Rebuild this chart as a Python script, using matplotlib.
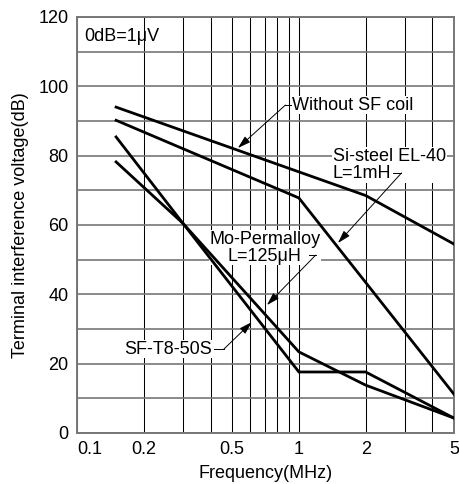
import matplotlib
matplotlib.use('Agg')
import matplotlib.pyplot as plt

plt.rcParams['font.family'] = ['Liberation Sans', 'DejaVu Sans']
plt.rcParams['font.size'] = 13

# frequency (MHz) / terminal interference voltage (dB)
freq_none = [0.15, 2, 5]
db_none = [94, 68.5, 54.5]

freq_si = [0.15, 1, 5]
db_si = [90.2, 67.8, 11.2]

freq_mo = [0.15, 0.3, 1, 2, 5]
db_mo = [85.4, 60.5, 23.4, 13.8, 4.3]

freq_sf = [0.15, 0.3, 1, 2, 5]
db_sf = [78.2, 60.5, 17.6, 17.6, 4.3]

x_ticks = [0.1, 0.2, 0.5, 1, 2, 5]
x_tick_labels = ['0.1', '0.2', '0.5', '1', '2', '5']
x_minor = [0.3, 0.4, 0.6, 0.7, 0.8, 0.9, 3, 4]
y_ticks = [0, 20, 40, 60, 80, 100, 120]
y_minor = [10, 30, 50, 70, 90, 110]

fig = plt.figure(figsize=(4.59, 4.84), dpi=100)
ax = fig.add_axes([0.1678, 0.1054, 0.8212, 0.8595])

for f, d in [(freq_none, db_none), (freq_si, db_si), (freq_mo, db_mo), (freq_sf, db_sf)]:
    ax.plot(f, d, color='black', lw=2.0, zorder=3, solid_joinstyle='miter')

ax.set_xscale('log')
ax.set_xlim(0.1, 5)
ax.set_ylim(0, 120)
ax.set_xticks(x_ticks)
ax.set_xticklabels(x_tick_labels)
ax.set_xticks(x_minor, minor=True)
ax.set_xticklabels([], minor=True)
ax.set_yticks(y_ticks)
ax.set_yticks(y_minor, minor=True)
ax.tick_params(which='both', length=0, pad=6)
ax.get_xticklabels()[0].set_horizontalalignment('left')

ax.grid(True, which='both', axis='x', color='black', lw=0.75, zorder=0)
ax.grid(True, which='both', axis='y', color='#777777', lw=1.2, zorder=0)
ax.set_axisbelow(True)
for s in ax.spines.values():
    s.set_color('#777777')
    s.set_linewidth(1.4)

ax.set_xlabel('Frequency(MHz)', labelpad=5)
ax.set_ylabel('Terminal interference voltage(dB)', labelpad=7)

ax.text(0.108, 114.5, '0dB=1\u03bcV', ha='left', va='center')

bg = dict(facecolor='white', edgecolor='none', pad=0.5)
arrow = dict(arrowstyle='-|>,head_length=0.6,head_width=0.18', color='black',
             lw=0.7, shrinkA=0, shrinkB=0)
lead = dict(color='black', lw=0.7, zorder=2)

# Without SF coil
ax.text(0.93, 94.6, 'Without SF coil', ha='left', va='center', bbox=bg, zorder=2)
ax.plot([0.87, 0.925], [94.6, 94.6], **lead)
ax.annotate('', xy=(0.531, 82.2), xytext=(0.87, 94.6), arrowprops=arrow, zorder=2)

# Si-steel
ax.text(1.42, 77.3, 'Si-steel EL-40\nL=1mH', ha='left', va='center',
        linespacing=1.0, bbox=bg, zorder=2)
ax.plot([2.66, 2.9], [75.0, 75.0], **lead)
ax.annotate('', xy=(1.50, 54.8), xytext=(2.9, 75.0), arrowprops=arrow, zorder=2)

# Mo-Permalloy
ax.text(0.703, 53.5, 'Mo-Permalloy\nL=125\u03bcH', ha='center', va='center',
        linespacing=1.0, bbox=bg, zorder=2)
ax.plot([1.11, 1.19], [51.3, 51.3], **lead)
ax.annotate('', xy=(0.718, 36.9), xytext=(1.19, 51.3), arrowprops=arrow, zorder=2)

# SF-T8-50S
ax.text(0.406, 24.2, 'SF-T8-50S', ha='right', va='center', bbox=bg, zorder=2)
ax.plot([0.415, 0.459], [24.2, 24.2], **lead)
ax.annotate('', xy=(0.614, 32.0), xytext=(0.459, 24.2), arrowprops=arrow, zorder=2)

fig.savefig('out.png', dpi=100)
